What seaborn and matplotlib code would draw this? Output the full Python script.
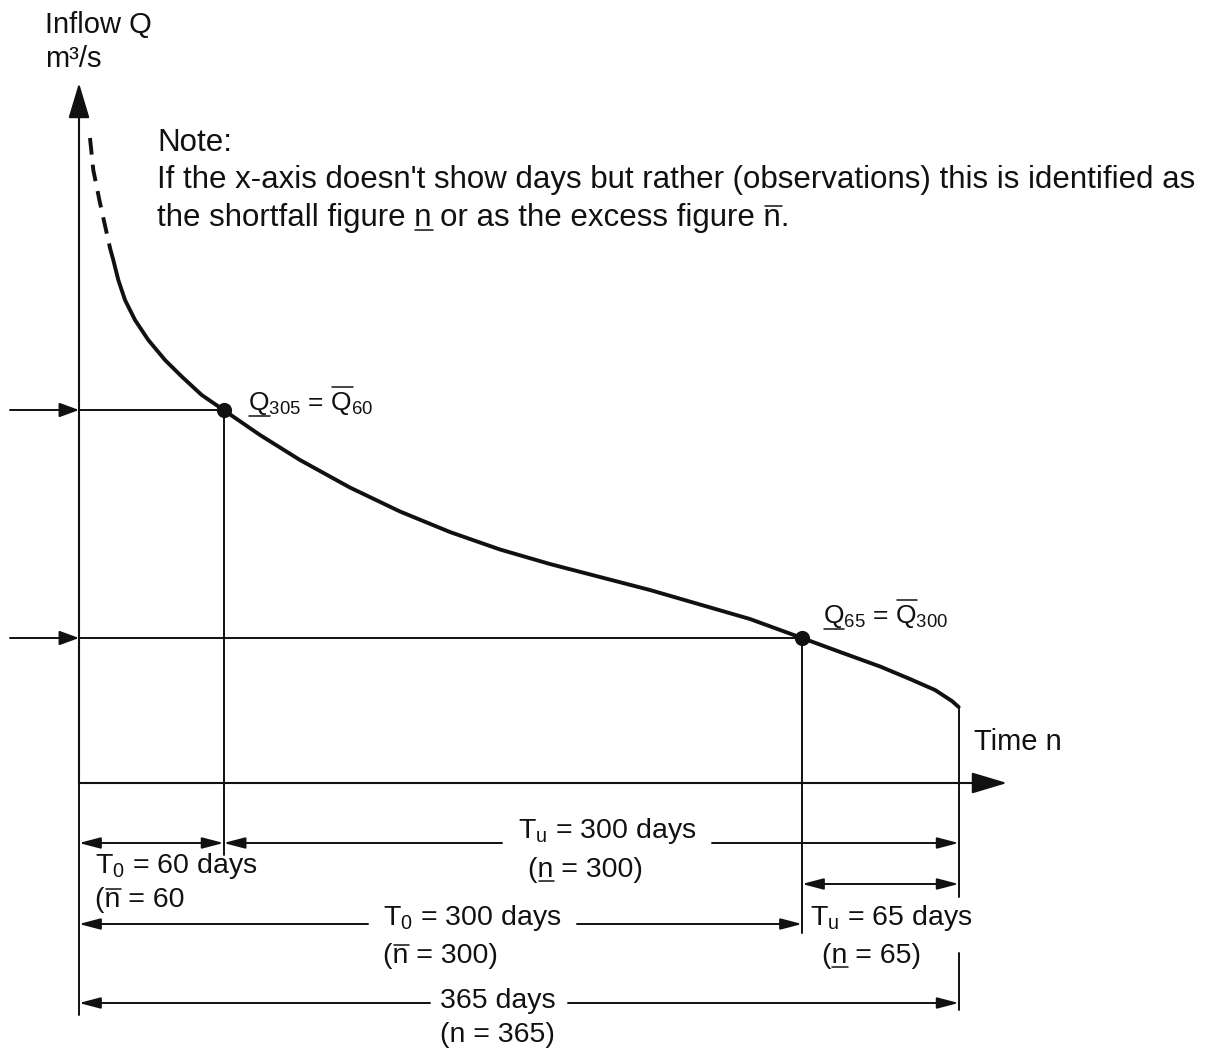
import matplotlib
matplotlib.use("Agg")
import matplotlib.pyplot as plt
import seaborn as sns
from matplotlib.font_manager import FontProperties
from matplotlib.lines import Line2D

# flow duration curve (days of the year, inflow Q in m3/s, relative units)
dashed_days = [4.56, 5.93, 8.71, 11.49, 12.86]
dashed_q = [12.90, 12.26, 11.60, 11.00, 10.70]
solid_days = [12.86, 14.23, 16.31, 19.09, 23.24, 28.76, 35.68, 42.61, 50.91, 60,
              75.1, 91.7, 112.4, 133.2, 153.9, 174.7, 195.4, 236.9, 278.4, 300,
              315.8, 332.4, 344.8, 355.2, 362.2, 365]
solid_q = [10.70, 10.46, 10.06, 9.66, 9.26, 8.86, 8.46, 8.13, 7.76, 7.46,
           6.96, 6.46, 5.91, 5.43, 5.02, 4.67, 4.38, 3.86, 3.28, 2.90,
           2.62, 2.33, 2.08, 1.86, 1.64, 1.52]
marked_days = [60, 300]
marked_q = [7.46, 2.90]
year_days = 365
q_year_end = 1.52

sns.set_theme(style="white")
FAMILY = ["Liberation Sans", "DejaVu Sans"]
plt.rcParams["font.family"] = FAMILY
plt.rcParams["mathtext.fontset"] = "custom"
plt.rcParams["mathtext.rm"] = "Liberation Sans"
plt.rcParams["mathtext.it"] = "Liberation Sans:italic"
plt.rcParams["mathtext.bf"] = "Liberation Sans:bold"

W, H = 1217, 1050
X0, PX_DAY = 79, 2.41   # pixel of day 0, pixels per day
Y0, PX_Q = 783, 50      # pixel of Q = 0, pixels per unit of Q


def dx(px):
    return (px - X0) / PX_DAY


def qy(py):
    return (Y0 - py) / PX_Q


fig = plt.figure(figsize=(W / 100, H / 100), dpi=100)
ax = fig.add_axes([0, 0, 1, 1])
ax.set_xlim(dx(0), dx(W))
ax.set_ylim(qy(H), qy(0))
ax.axis("off")
renderer = fig.canvas.get_renderer()

INK = "#111111"
AX_HEAD = "-|>,head_length=1.1,head_width=0.33"
SIDE_HEAD = "-|>,head_length=0.6,head_width=0.22"
DIM_HEAD = "-|>,head_length=0.65,head_width=0.17"
DIM_BOTH = "<|-|>,head_length=0.65,head_width=0.17"


def arrow(x0, y0, x1, y1, style, lw=1.4):
    ax.annotate("", xy=(x1, y1), xytext=(x0, y0),
                arrowprops=dict(arrowstyle=style, color=INK, lw=lw,
                                shrinkA=0, shrinkB=0, mutation_scale=20))


def label(px, py, s, size=20.5):
    fig.text(px / W, 1 - py / H, s, ha="left", va="baseline", fontsize=size, color=INK)


def text_size(s, size):
    prop = FontProperties(family=FAMILY, size=size)
    return renderer.get_text_width_height_descent(s, prop, ismath="$" in s)


def bar(px, py, prefix, char, size=20.5, over=False, gap=4):
    # under- or overline one character of a label (n-bar, Q-underline ...)
    w_all, _, _ = text_size(prefix + char, size)
    w_c, h_c, d_c = text_size(char, size)
    x1 = px + w_all + 1
    x0 = x1 - w_c
    y = py - (h_c - d_c) - gap if over else py + gap
    fig.add_artist(Line2D([x0 / W, x1 / W], [1 - y / H, 1 - y / H],
                          transform=fig.transFigure, color=INK, lw=1.1))


# axes with arrow heads
arrow(0, 0, 0, qy(83), AX_HEAD, lw=1.5)
arrow(0, 0, dx(1007), 0, AX_HEAD, lw=1.5)
ax.plot([0, 0], [0, qy(1015)], color=INK, lw=1.4)

# the curve
sns.lineplot(x=dashed_days, y=dashed_q, ax=ax, color=INK, lw=2.8, ls=(0, (4.3, 2.6)),
             estimator=None, sort=False)
sns.lineplot(x=solid_days, y=solid_q, ax=ax, color=INK, lw=2.8,
             estimator=None, sort=False, solid_joinstyle="round")
sns.scatterplot(x=marked_days, y=marked_q, ax=ax, s=120, color=INK, linewidth=0, zorder=5)

# guide lines to the marked points
for d, q, bottom in zip(marked_days, marked_q, [qy(855), qy(933)]):
    ax.plot([0, d], [q, q], color=INK, lw=1.4)
    ax.plot([d, d], [q, bottom], color=INK, lw=1.4)
    arrow(dx(10), q, 0, q, SIDE_HEAD)

ax.plot([year_days, year_days], [q_year_end, qy(897)], color=INK, lw=1.4)
ax.plot([year_days, year_days], [qy(953), qy(1010)], color=INK, lw=1.4)

# dimension arrows under the axis
r1, r2, r3, r4 = qy(843), qy(884), qy(924), qy(1003)
arrow(0, r1, marked_days[0], r1, DIM_BOTH)
arrow(dx(502), r1, marked_days[0], r1, DIM_HEAD)
arrow(dx(712), r1, year_days, r1, DIM_HEAD)
arrow(marked_days[1], r2, year_days, r2, DIM_BOTH)
arrow(dx(368), r3, 0, r3, DIM_HEAD)
arrow(dx(577), r3, marked_days[1], r3, DIM_HEAD)
arrow(dx(430), r4, 0, r4, DIM_HEAD)
arrow(dx(568), r4, year_days, r4, DIM_HEAD)

# texts
label(45, 33, "Inflow Q", 21)
label(45, 67, "m³/s", 21)
label(157, 151, "Note:", 22.5)
label(157, 188, "If the x-axis doesn't show days but rather (observations) this is identified as", 22.5)
line3 = "the shortfall figure n or as the excess figure n."
label(157, 226, line3, 22.5)
bar(157, 226, "the shortfall figure ", "n", 22.5, gap=4)
bar(157, 226, "the shortfall figure n or as the excess figure ", "n", 22.5, over=True, gap=3)

label(248, 410, r"Q$_{305}$ = Q$_{60}$", 19)
bar(248, 410, "", "Q", 19, gap=6)
bar(248, 410, r"Q$_{305}$ = ", "Q", 19, over=True, gap=5)
label(823, 623, r"Q$_{65}$ = Q$_{300}$", 19)
bar(823, 623, "", "Q", 19, gap=6)
bar(823, 623, r"Q$_{65}$ = ", "Q", 19, over=True, gap=5)
label(974, 750, "Time n", 21)

label(518, 838, r"T$_\mathrm{u}$ = 300 days")
label(528, 877, "(n = 300)")
bar(528, 877, "(", "n", gap=4)
label(95, 873, r"T$_\mathrm{0}$ = 60 days")
label(95, 907, "(n = 60")
bar(95, 907, "(", "n", over=True, gap=3)
label(383, 925, r"T$_\mathrm{0}$ = 300 days")
label(383, 963, "(n = 300)")
bar(383, 963, "(", "n", over=True, gap=3)
label(810, 925, r"T$_\mathrm{u}$ = 65 days")
label(822, 963, "(n = 65)")
bar(822, 963, "(", "n", gap=4)
label(440, 1008, "365 days")
label(440, 1042, "(n = 365)")

fig.savefig("out.png", dpi=100)
